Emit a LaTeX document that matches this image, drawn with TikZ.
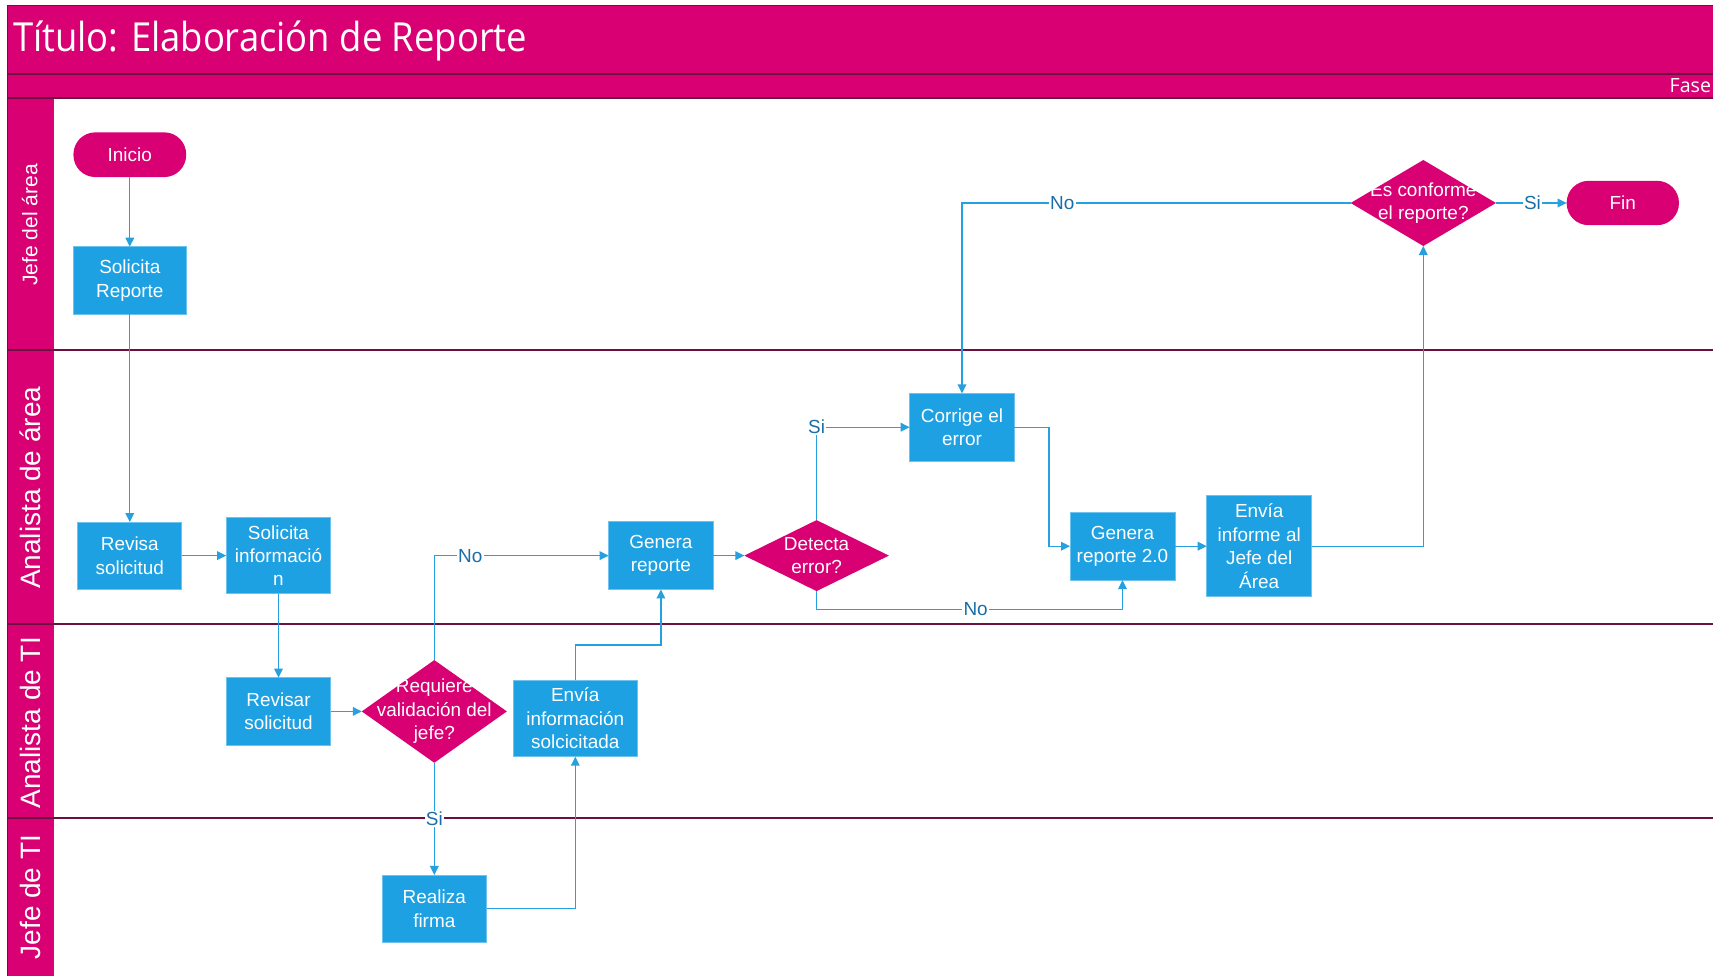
\documentclass[tikz,border=0pt]{standalone}
\usepackage{fontspec}
\setmainfont{Liberation Sans}
\newfontfamily\titlefont{Open Sans}
\usetikzlibrary{arrows.meta,shapes.geometric,calc}

\definecolor{berry}{RGB}{216,0,115}
\definecolor{cyanbox}{RGB}{29,161,226}
\definecolor{boxedge}{RGB}{110,195,238}
\definecolor{flowline}{RGB}{38,160,222}
\definecolor{flowtext}{RGB}{25,110,170}
\definecolor{laneline}{RGB}{110,15,65}
\definecolor{headedge}{RGB}{160,40,100}

\begin{document}
\begin{tikzpicture}[x=0.75pt,y=-0.75pt,
  every node/.style={font=\fontsize{14.2}{17.6}\selectfont, outer sep=0pt},
  process/.style 2 args={rectangle, fill=cyanbox, draw=boxedge, line width=0.6pt,
    text=white, align=center, inner sep=0pt,
    minimum width=#1*0.75pt, minimum height=#2*0.75pt},
  terminal/.style 2 args={rectangle, rounded corners=16.4pt, fill=berry, text=white,
    inner sep=0pt, minimum width=#1*0.75pt, minimum height=#2*0.75pt},
  decision/.style 2 args={diamond, fill=berry, inner sep=0pt,
    minimum width=#1*0.75pt, minimum height=#2*0.75pt},
  dtext/.style={text=white, align=center, inner sep=0pt},
  flow/.style={draw=flowline, line width=1pt, -{Triangle[length=6.75pt,width=6.5pt]}},
  flowlabel/.style={fill=white, text=flowtext, inner sep=1pt},
  lanelabel/.style={rotate=90, anchor=base, text=white, inner sep=0pt},
  sep/.style={draw=laneline, line width=1.1pt}
]
\useasboundingbox (0,0) rectangle (1713,975);
\clip (0,0) rectangle (1713,975);

% ---- frame, title band, phase band and lane headers
\fill[berry] (7.6,5.5) rectangle (1720,98);
\fill[berry] (7.6,98) rectangle (53.5,980);
\draw[headedge, line width=0.6pt] (53.5,98) -- (53.5,980);
\draw[sep] (7.6,980) -- (7.6,5.5) -- (1720,5.5);
\draw[sep] (7.6,74) -- (1720,74);
\draw[sep] (7.6,98) -- (1720,98);
\draw[sep] (7.6,350) -- (1720,350);
\draw[sep] (7.6,624) -- (1720,624);
\draw[sep] (7.6,818) -- (1720,818);

\node[font=\titlefont\fontsize{30}{36}\selectfont, text=white, anchor=base west, inner sep=0pt]
  (title) at (13,51.7) {\scalebox{0.91}[1]{Título: Elaboración de Reporte}};
\node[font=\titlefont\fontsize{14.7}{18}\selectfont, text=white, anchor=base east, inner sep=0pt]
  (fase) at (1711,92.3) {Fase};

\node[lanelabel, font=\fontsize{15.8}{19}\selectfont] (lane1) at (37.3,225) {Jefe del área};
\node[lanelabel, font=\fontsize{21}{25}\selectfont] (lane2) at (40,487.8) {Analista de área};
\node[lanelabel, font=\fontsize{21}{25}\selectfont] (lane3) at (40,722.7) {Analista de TI};
\node[lanelabel, font=\fontsize{21}{25}\selectfont] (lane4) at (40,897) {Jefe de TI};

% ---- flow nodes
\node[terminal={112.7}{44.7}] (inicio) at (129.8,154.7) {Inicio};
\node[process={113}{67.7}] (solrep) at (129.8,280.5) {Solicita\\Reporte};
\node[process={104}{67}] (revisa) at (129.8,555.6) {Revisa\\solicitud};
\node[process={104.7}{76.4}] (solinf) at (278.5,555.6) {Solicita\\informació\\n};
\node[process={104.3}{67.7}] (revisar) at (278.5,711.4) {Revisar\\solicitud};
\node[decision={145}{102.7}] (requiere) at (434.3,711.4) {};
\node[dtext] (requiere-t) at (requiere) {Requiere\\validación del\\jefe?};
\node[process={123.3}{76.7}] (envinf) at (575.3,718.3) {Envía\\información\\solcicitada};
\node[process={104.7}{67.7}] (firma) at (434.3,908.8) {Realiza\\firma};
\node[process={104.6}{67.7}] (genera) at (660.9,555.6) {Genera\\reporte};
\node[decision={144.6}{71}] (detecta) at (816.6,555.6) {};
\node[dtext] (detecta-t) at (detecta) {Detecta\\error?};
\node[process={104.7}{67.7}] (corrige) at (962,427.2) {Corrige el\\error};
\node[process={105}{67.7}] (genera2) at (1122.5,546.2) {Genera\\reporte 2.0};
\node[process={105}{100.7}] (enviainf) at (1259.2,546.2) {Envía\\informe al\\Jefe del\\Área};
\node[decision={145.3}{86}] (conforme) at (1423.3,203) {};
\node[dtext] (conforme-t) at (conforme) {Es conforme\\el reporte?};
\node[terminal={112.3}{44.3}] (fin) at (1622.8,203) {Fin};

% ---- connectors
\draw[flow] (inicio) -- (solrep);
\draw[flow] (solrep) -- (revisa);
\draw[flow] (revisa) -- (solinf);
\draw[flow] (solinf) -- (revisar);
\draw[flow] (revisar) -- (requiere);
\draw[flow] (requiere.north) |- (genera.west) node[flowlabel, pos=0.603] {No};
\draw[flow] (requiere.south) -- (firma.north) node[flowlabel, pos=0.5] {Si};
\draw[flow] (firma.east) -| (envinf.south);
\draw[flow] (envinf.north) -- ++(0,-35) -| (genera.south);
\draw[flow] (genera) -- (detecta);
\draw[flow] (detecta.north) |- (corrige.west) node[flowlabel, pos=0.5] {Si};
\draw[flow] (detecta.south) -- ++(0,18.3) -| (genera2.south) node[flowlabel, pos=0.26] {No};
\draw[flow] (corrige.east) -- ++(34.7,0) |- (genera2.west);
\draw[flow] (genera2) -- (enviainf);
\draw[flow] (enviainf.east) -| (conforme.south);
\draw[flow] (conforme.west) -| (corrige.north) node[flowlabel, pos=0.371] {No};
\draw[flow] (conforme) -- (fin) node[flowlabel, pos=0.516] {Si};
\end{tikzpicture}
\end{document}
